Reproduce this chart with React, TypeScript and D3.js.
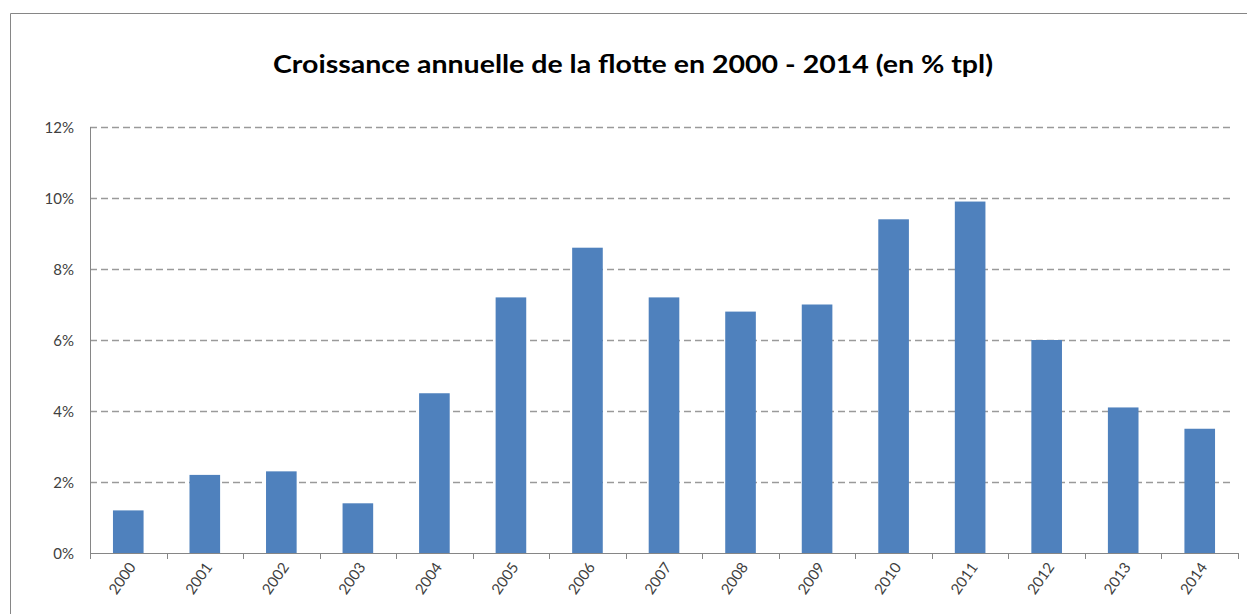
import React from "react";
import * as d3 from "d3";

const years = ["2000","2001","2002","2003","2004","2005","2006","2007","2008","2009","2010","2011","2012","2013","2014"];
const growth = [1.2, 2.2, 2.3, 1.4, 4.5, 7.2, 8.6, 7.2, 6.8, 7.0, 9.4, 9.9, 6.0, 4.1, 3.5];
const yTicks = [0, 2, 4, 6, 8, 10, 12];
const title = "Croissance annuelle de la flotte en 2000 - 2014 (en % tpl)";

const W = 1247, H = 614;
const left = 90, right = 1238, top = 127, bottom = 553;
const font = "Lato, 'Open Sans', sans-serif";

export default function App() {
  const x = d3.scaleBand<string>().domain(years).range([left, right]).paddingInner(0.6).paddingOuter(0.3);
  const band = d3.scaleBand<string>().domain(years).range([left, right]);
  const y = d3.scaleLinear().domain([0, 12]).range([bottom, top]);
  const boundaries = years.map((yr) => band(yr) as number).concat([right]);
  return (
    <div style={{ position: "fixed", left: 0, top: 0, width: W, height: H, background: "#fff" }}>
      <svg width={W} height={H} style={{ display: "block" }}>
        <rect x={0} y={0} width={W} height={H} fill="#fff" />
        <path d={`M10.5,${H} V13.5 H${W}`} fill="none" stroke="#868686" strokeWidth={1} />
        <text x={633} y={73} textAnchor="middle" fontFamily={font} fontWeight="bold" fontSize={24}
          textLength={720} lengthAdjust="spacingAndGlyphs" fill="#000">{title}</text>
        {yTicks.map((t) => (
          <g key={t}>
            {t > 0 && (
              <line x1={left} x2={right - 6} y1={Math.round(y(t)) + 0.5} y2={Math.round(y(t)) + 0.5}
                stroke="#9a9a9a" strokeWidth={1.5} strokeDasharray="7,4" />
            )}
            <text x={74} y={y(t) + 5.5} textAnchor="end" fontFamily={font} fontSize={15} fill="#404040">{t}%</text>
          </g>
        ))}
        {years.map((yr, i) => (
          <rect key={yr} x={x(yr)} y={y(growth[i])} width={x.bandwidth()} height={bottom - y(growth[i])} fill="#4F81BD" />
        ))}
        <line x1={left + 0.5} x2={left + 0.5} y1={top} y2={bottom} stroke="#868686" />
        <line x1={left} x2={right} y1={bottom + 0.5} y2={bottom + 0.5} stroke="#868686" />
        {boundaries.map((b, i) => (
          <line key={i} x1={Math.round(b) + 0.5} x2={Math.round(b) + 0.5} y1={bottom} y2={bottom + 6} stroke="#868686" />
        ))}
        {years.map((yr) => {
          const cx = (band(yr) as number) + band.bandwidth() / 2;
          return (
            <text key={yr} transform={`translate(${cx + 4},${bottom + 11}) rotate(-55)`} textAnchor="end"
              fontFamily={font} fontSize={15} fill="#404040" dy="0.35em">{yr}</text>
          );
        })}
      </svg>
    </div>
  );
}
